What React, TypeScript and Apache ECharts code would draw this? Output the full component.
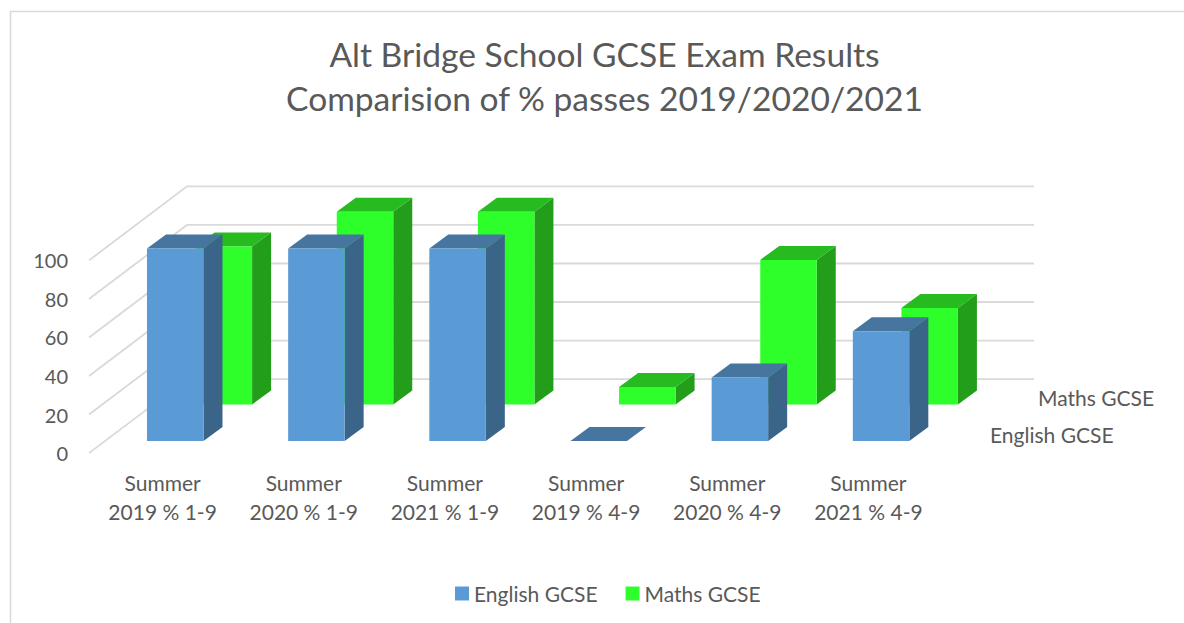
import React, { useEffect, useRef } from "react";
import * as echarts from "echarts";

const categories = [
  "Summer\n2019 % 1-9",
  "Summer\n2020 % 1-9",
  "Summer\n2021 % 1-9",
  "Summer\n2019 % 4-9",
  "Summer\n2020 % 4-9",
  "Summer\n2021 % 4-9",
];
const englishValues = [100, 100, 100, 0, 33, 57];
const mathsValues = [82, 100, 100, 9, 75, 50];
const yTicks = [0, 20, 40, 60, 80, 100];
const seriesNames = ["English GCSE", "Maths GCSE"];
const titleText = "Alt Bridge School GCSE Exam Results\nComparision of % passes 2019/2020/2021";

const FONT = "Lato";
const TEXT = "#595959";
const GRID_LINE = "#D9D9D9";

const BAR_W = 56.5;
const BAR_DX = 19;
const BAR_DY = -14;

function barRenderer(leftOffset: number, lift: number, front: string, side: string, top: string) {
  return (_params: any, api: any) => {
    const base = api.coord([api.value(0), 0]);
    const head = api.coord([api.value(0), api.value(1)]);
    const x0 = base[0] + leftOffset;
    const x1 = x0 + BAR_W;
    const yb = base[1] + lift;
    const yt = head[1] + lift;
    return {
      type: "group",
      children: [
        {
          type: "polygon",
          shape: { points: [[x1, yb], [x1 + BAR_DX, yb + BAR_DY], [x1 + BAR_DX, yt + BAR_DY], [x1, yt]] },
          style: { fill: side },
        },
        {
          type: "polygon",
          shape: { points: [[x0, yt], [x1, yt], [x1 + BAR_DX, yt + BAR_DY], [x0 + BAR_DX, yt + BAR_DY]] },
          style: { fill: top },
        },
        {
          type: "polygon",
          shape: { points: [[x0, yb], [x1, yb], [x1, yt], [x0, yt]] },
          style: { fill: front },
        },
      ],
    };
  };
}

function wallRenderer(params: any, api: any) {
  const p = api.coord([0, api.value(0)]);
  const xStart = params.coordSys.x - 3;
  const y = p[1];
  return {
    type: "polyline",
    shape: { points: [[xStart, y], [187, y - 74], [1034, y - 74]] },
    style: { stroke: GRID_LINE, lineWidth: 1.8, fill: "none" },
  };
}

export default function App() {
  const ref = useRef<HTMLDivElement>(null);

  useEffect(() => {
    document.body.style.margin = "0";
    const chart = echarts.init(ref.current!, undefined, { renderer: "svg" });
    chart.setOption({
      animation: false,
      backgroundColor: "#FFFFFF",
      title: {
        text: titleText,
        left: 599.5,
        top: 27,
        textAlign: "center",
        textStyle: { fontFamily: FONT, fontSize: 33.6, fontWeight: "normal", color: TEXT, lineHeight: 44 },
      },
      legend: {
        data: seriesNames,
        left: 450,
        top: 578,
        icon: "rect",
        itemWidth: 14,
        itemHeight: 14,
        itemGap: 28,
        selectedMode: false,
        textStyle: { fontFamily: FONT, fontSize: 21, color: TEXT, padding: [1, 0, 0, 0] },
      },
      grid: { left: 92, top: 260.4, width: 847, height: 192.7 },
      xAxis: {
        type: "category",
        data: categories,
        axisLine: { show: false },
        axisTick: { show: false },
        splitLine: { show: false },
        axisLabel: { fontFamily: FONT, fontSize: 21, color: TEXT, lineHeight: 29, margin: 15, interval: 0 },
      },
      yAxis: {
        type: "value",
        min: 0,
        max: 100,
        interval: 20,
        axisLine: { show: false },
        axisTick: { show: false },
        splitLine: { show: false },
        axisLabel: { fontFamily: FONT, fontSize: 20, color: TEXT, margin: 24 },
      },
      series: [
        {
          type: "custom",
          name: "walls",
          silent: true,
          clip: false,
          z: 1,
          coordinateSystem: "cartesian2d",
          encode: { y: 0 },
          data: yTicks.map((v) => [v]),
          renderItem: wallRenderer,
        },
        {
          type: "custom",
          name: seriesNames[1],
          silent: true,
          clip: false,
          z: 2,
          coordinateSystem: "cartesian2d",
          encode: { x: 0, y: 1 },
          itemStyle: { color: "#2EFF2A" },
          data: mathsValues.map((v, i) => [i, v]),
          renderItem: barRenderer(33, -48.7, "#2EFF2A", "#229E1A", "#26BB1E"),
        },
        {
          type: "custom",
          name: seriesNames[0],
          silent: true,
          clip: false,
          z: 3,
          coordinateSystem: "cartesian2d",
          encode: { x: 0, y: 1 },
          itemStyle: { color: "#5B9BD5" },
          data: englishValues.map((v, i) => [i, v]),
          renderItem: barRenderer(-15.6, -12, "#5B9BD5", "#3A6488", "#4675A0"),
        },
      ],
      graphic: [
        {
          type: "polyline",
          shape: { points: [[10.5, 623], [10.5, 11.5], [1184, 11.5]] },
          style: { stroke: GRID_LINE, lineWidth: 1.5, fill: "none" },
        },
        {
          type: "text",
          x: 1038,
          y: 397.5,
          style: { text: seriesNames[1], fontFamily: FONT, fontSize: 21, fill: TEXT, textVerticalAlign: "middle" },
        },
        {
          type: "text",
          x: 990,
          y: 434.5,
          style: { text: seriesNames[0], fontFamily: FONT, fontSize: 21, fill: TEXT, textVerticalAlign: "middle" },
        },
      ],
    });
    return () => chart.dispose();
  }, []);

  return <div ref={ref} style={{ position: "absolute", left: 0, top: 0, width: 1184, height: 623 }} />;
}
